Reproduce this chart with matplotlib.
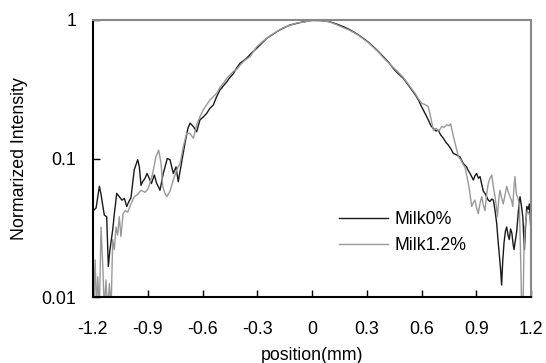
import matplotlib
matplotlib.use("Agg")
import matplotlib.pyplot as plt

plt.rcParams['font.family'] = ['Liberation Sans', 'DejaVu Sans']
FS = 12.8

x_ticks = [-1.2, -0.9, -0.6, -0.3, 0, 0.3, 0.6, 0.9, 1.2]
x_tick_labels = ["-1.2", "-0.9", "-0.6", "-0.3", "0", "0.3", "0.6", "0.9", "1.2"]
y_ticks = [0.01, 0.1, 1]
y_tick_labels = ["0.01", "0.1", "1"]

milk0_x = [-1.198, -1.183, -1.165, -1.156, -1.138, -1.125, -1.116, -1.107, -1.092, -1.083,
           -1.070, -1.056, -1.041, -1.028, -1.015, -1.003, -0.992, -0.974, -0.955, -0.946,
           -0.937, -0.928, -0.915, -0.904, -0.892, -0.880, -0.864, -0.851, -0.840, -0.833,
           -0.815, -0.793, -0.778, -0.760, -0.745, -0.733, -0.714, -0.696, -0.680, -0.668,
           -0.650, -0.632, -0.614, -0.595, -0.577, -0.560, -0.541, -0.525, -0.504, -0.485,
           -0.467, -0.450, -0.431, -0.413, -0.395, -0.378, -0.358, -0.330, -0.303, -0.275,
           -0.248, -0.220, -0.193, -0.160, -0.121, -0.085, -0.048, -0.020, 0.007, 0.044,
           0.070, 0.099, 0.135, 0.172, 0.200, 0.226, 0.255, 0.281, 0.310, 0.336,
           0.365, 0.391, 0.420, 0.445, 0.472, 0.500, 0.523, 0.546, 0.565, 0.583,
           0.598, 0.610, 0.625, 0.637, 0.652, 0.665, 0.680, 0.692, 0.705, 0.720,
           0.735, 0.747, 0.760, 0.774, 0.793, 0.810, 0.829, 0.847, 0.856, 0.866,
           0.875, 0.884, 0.893, 0.902, 0.912, 0.921, 0.930, 0.939, 0.948, 0.957,
           0.966, 0.975, 0.985, 0.994, 1.003, 1.012, 1.019, 1.026, 1.033, 1.039,
           1.045, 1.052, 1.060, 1.067, 1.074, 1.081, 1.088, 1.095, 1.102, 1.107,
           1.115, 1.122, 1.131, 1.140, 1.148, 1.155, 1.164, 1.170, 1.177, 1.185,
           1.191, 1.198]
milk0_y = [0.042, 0.044, 0.063, 0.055, 0.039, 0.038, 0.0166, 0.022, 0.0305, 0.040,
           0.056, 0.053, 0.050, 0.0515, 0.045, 0.049, 0.052, 0.083, 0.098, 0.087,
           0.064, 0.068, 0.072, 0.078, 0.072, 0.066, 0.076, 0.066, 0.062, 0.059,
           0.078, 0.100, 0.098, 0.078, 0.087, 0.068, 0.095, 0.129, 0.165, 0.180,
           0.170, 0.156, 0.190, 0.200, 0.212, 0.230, 0.243, 0.275, 0.313, 0.335,
           0.358, 0.385, 0.410, 0.450, 0.487, 0.505, 0.530, 0.580, 0.625, 0.680,
           0.737, 0.780, 0.823, 0.870, 0.920, 0.945, 0.970, 0.985, 1.000, 0.990,
           0.985, 0.970, 0.935, 0.895, 0.860, 0.823, 0.780, 0.737, 0.690, 0.642,
           0.590, 0.543, 0.495, 0.448, 0.410, 0.380, 0.345, 0.313, 0.290, 0.265,
           0.240, 0.224, 0.205, 0.190, 0.172, 0.165, 0.158, 0.160, 0.148, 0.140,
           0.130, 0.125, 0.118, 0.109, 0.106, 0.103, 0.092, 0.087, 0.082, 0.078,
           0.074, 0.070, 0.075, 0.078, 0.072, 0.074, 0.065, 0.058, 0.056, 0.053,
           0.050, 0.049, 0.051, 0.050, 0.042, 0.034, 0.026, 0.0206, 0.016, 0.0122,
           0.018, 0.0245, 0.030, 0.032, 0.028, 0.026, 0.031, 0.029, 0.024, 0.022,
           0.026, 0.030, 0.042, 0.053, 0.045, 0.038, 0.022, 0.032, 0.045, 0.043,
           0.047, 0.033]

milk12_x = [-1.200, -1.196, -1.188, -1.181, -1.174, -1.165, -1.156, -1.147, -1.138, -1.129,
            -1.120, -1.110, -1.101, -1.092, -1.083, -1.074, -1.065, -1.056, -1.047, -1.035,
            -1.023, -1.010, -0.992, -0.974, -0.955, -0.937, -0.915, -0.900, -0.891, -0.873,
            -0.855, -0.840, -0.827, -0.818, -0.806, -0.796, -0.778, -0.760, -0.741, -0.723,
            -0.705, -0.687, -0.670, -0.650, -0.632, -0.614, -0.596, -0.577, -0.559, -0.540,
            -0.522, -0.505, -0.486, -0.467, -0.449, -0.431, -0.413, -0.395, -0.370, -0.340,
            -0.303, -0.275, -0.248, -0.220, -0.190, -0.160, -0.121, -0.085, -0.048, -0.020,
            0.007, 0.030, 0.055, 0.080, 0.100, 0.135, 0.172, 0.200, 0.226, 0.255,
            0.281, 0.310, 0.336, 0.365, 0.391, 0.420, 0.445, 0.472, 0.500, 0.523,
            0.546, 0.565, 0.583, 0.601, 0.620, 0.637, 0.650, 0.665, 0.680, 0.695,
            0.711, 0.725, 0.738, 0.750, 0.760, 0.772, 0.784, 0.802, 0.815, 0.829,
            0.838, 0.848, 0.857, 0.866, 0.875, 0.884, 0.893, 0.902, 0.911, 0.920,
            0.930, 0.939, 0.948, 0.957, 0.966, 0.975, 0.985, 0.994, 1.003, 1.010,
            1.016, 1.023, 1.030, 1.039, 1.048, 1.058, 1.067, 1.076, 1.085, 1.093,
            1.100, 1.106, 1.112, 1.120, 1.128, 1.136, 1.143, 1.149, 1.156, 1.161,
            1.167, 1.174, 1.180, 1.188, 1.195, 1.200]
milk12_y = [0.032, 0.008, 0.0185, 0.008, 0.014, 0.008, 0.032, 0.0175, 0.008, 0.0133,
            0.008, 0.0125, 0.008, 0.026, 0.022, 0.032, 0.028, 0.038, 0.0273, 0.040,
            0.042, 0.041, 0.047, 0.053, 0.055, 0.059, 0.057, 0.060, 0.0645, 0.078,
            0.103, 0.115, 0.092, 0.063, 0.056, 0.053, 0.058, 0.070, 0.083, 0.092,
            0.122, 0.152, 0.152, 0.140, 0.175, 0.200, 0.224, 0.245, 0.265, 0.280,
            0.296, 0.325, 0.349, 0.380, 0.400, 0.425, 0.440, 0.470, 0.510, 0.543,
            0.640, 0.690, 0.740, 0.785, 0.830, 0.875, 0.915, 0.950, 0.965, 0.980,
            0.990, 0.985, 0.995, 0.980, 0.965, 0.925, 0.880, 0.850, 0.815, 0.775,
            0.730, 0.685, 0.635, 0.585, 0.535, 0.490, 0.455, 0.420, 0.385, 0.350,
            0.318, 0.295, 0.270, 0.250, 0.245, 0.237, 0.200, 0.160, 0.165, 0.158,
            0.170, 0.168, 0.175, 0.172, 0.178, 0.150, 0.129, 0.103, 0.098, 0.090,
            0.087, 0.075, 0.066, 0.055, 0.045, 0.048, 0.050, 0.044, 0.040, 0.047,
            0.053, 0.046, 0.042, 0.055, 0.066, 0.072, 0.076, 0.062, 0.053, 0.045,
            0.038, 0.050, 0.059, 0.052, 0.047, 0.055, 0.063, 0.057, 0.053, 0.050,
            0.045, 0.060, 0.074, 0.055, 0.052, 0.047, 0.020, 0.008, 0.008, 0.020,
            0.032, 0.038, 0.042, 0.040, 0.038, 0.036]

fig = plt.figure(figsize=(5.46, 3.63), dpi=100)
ax = fig.add_axes([93/546, 1 - 297/363, (531 - 93)/546, (297 - 20)/363])

ax.plot(milk0_x, milk0_y, color='#1a1a1a', lw=1.0, label='Milk0%')
ax.plot(milk12_x, milk12_y, color='#999999', lw=1.0, label='Milk1.2%')

ax.set_yscale('log')
ax.set_xlim(-1.2, 1.2)
ax.set_ylim(0.01, 1)
ax.set_xticks(x_ticks)
ax.set_xticklabels(x_tick_labels)
ax.set_yticks(y_ticks)
ax.set_yticklabels(y_tick_labels)
ax.minorticks_off()
ax.tick_params(axis='both', direction='in', length=5, width=1, labelsize=FS, colors='black')
ax.tick_params(axis='x', pad=17)
ax.tick_params(axis='y', pad=12)

for s in ['left', 'bottom']:
    ax.spines[s].set_color('black')
    ax.spines[s].set_linewidth(1.5)
for s in ['top', 'right']:
    ax.spines[s].set_color('#888888')
    ax.spines[s].set_linewidth(1.5)

ax.set_xlabel('position(mm)', fontsize=FS, labelpad=7)
ax.set_ylabel('Normarized Intensity', fontsize=FS, labelpad=10)

ax.legend(loc='center left', bbox_to_anchor=((339 - 93) / 438, 1 - (232.5 - 20) / 277),
          frameon=False, fontsize=FS, handlelength=49 / (FS * 100 / 72),
          handletextpad=7 / (FS * 100 / 72),
          labelspacing=0.5, borderpad=0, borderaxespad=0)

fig.savefig('out.png', dpi=100)
